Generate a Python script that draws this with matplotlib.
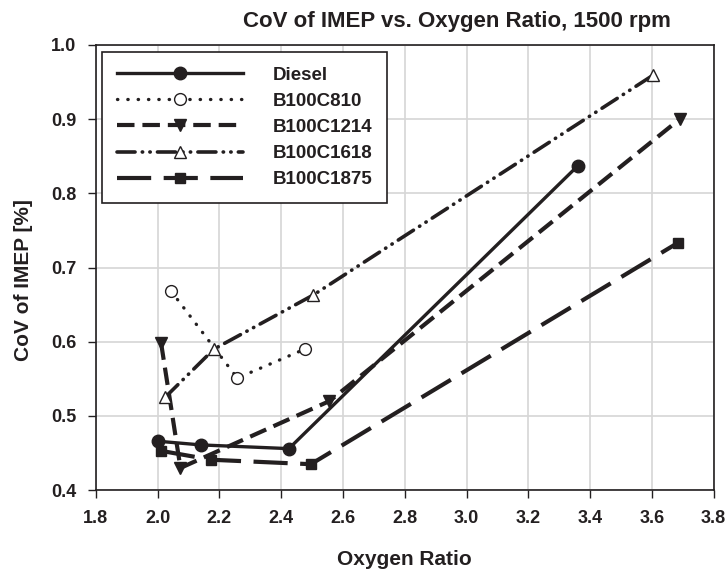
import numpy as np
import matplotlib.pyplot as plt
from matplotlib.ticker import FormatStrFormatter

plt.rcParams['font.family'] = ['Liberation Sans', 'DejaVu Sans']
plt.rcParams['font.weight'] = 'bold'

# data
series = ['Diesel', 'B100C810', 'B100C1214', 'B100C1618', 'B100C1875']
x_diesel = [2.00, 2.14, 2.425, 3.36]
y_diesel = [0.466, 0.461, 0.456, 0.837]
x_c810 = [2.044, 2.258, 2.476]
y_c810 = [0.668, 0.551, 0.590]
x_c1214 = [2.011, 2.074, 2.556, 3.69]
y_c1214 = [0.599, 0.430, 0.520, 0.900]
x_c1618 = [2.024, 2.182, 2.504, 3.603]
y_c1618 = [0.525, 0.590, 0.663, 0.959]
x_c1875 = [2.011, 2.174, 2.496, 3.683]
y_c1875 = [0.453, 0.441, 0.435, 0.733]

col = '#231f20'

fig = plt.figure(figsize=(7.26, 5.76), dpi=100)
ax = fig.add_axes([0.132, 0.149, 0.851, 0.773])

ax.plot(x_diesel, y_diesel, color=col, lw=2.4, ls='-', marker='o', ms=9,
        mfc=col, mec=col, label=series[0])
ax.plot(x_c810, y_c810, color=col, lw=2.4, ls=(0, (0.1, 3.0)), dash_capstyle='round',
        marker='o', ms=8.5, mfc='white', mec=col, mew=1.0, label=series[1])
ax.plot(x_c1214, y_c1214, color=col, lw=3.0, ls=(0, (4.2, 1.9)),
        marker='v', ms=9, mfc=col, mec=col, label=series[2])
ax.plot(x_c1618, y_c1618, color=col, lw=2.6, ls=(0, (5.0, 2.0, 0.1, 2.0, 0.1, 2.0)),
        dash_capstyle='round', marker='^', ms=9, mfc='white', mec=col, mew=1.0,
        label=series[3])
ax.plot(x_c1875, y_c1875, color=col, lw=3.0, ls=(0, (8.2, 3.0)),
        marker='s', ms=7.5, mfc=col, mec=col, label=series[4])

ax.set_xlim(1.8, 3.8)
ax.set_ylim(0.4, 1.0)
ax.set_xticks(np.arange(1.8, 3.81, 0.2))
ax.set_yticks(np.arange(0.4, 1.01, 0.1))
ax.xaxis.set_major_formatter(FormatStrFormatter('%.1f'))
ax.yaxis.set_major_formatter(FormatStrFormatter('%.1f'))
ax.grid(True, color='#d6d6d6', lw=1.2)
ax.set_axisbelow(True)
ax.tick_params(direction='out', length=6, width=1, labelsize=13, pad=8, colors=col)
for s in ax.spines.values():
    s.set_color(col)
    s.set_linewidth(1.2)

ax.set_title('CoV of IMEP vs. Oxygen Ratio, 1500 rpm', fontsize=16, fontweight='bold',
             pad=13, color=col, x=0.584)
ax.set_xlabel('Oxygen Ratio', fontsize=15, fontweight='bold', labelpad=17, color=col)
ax.set_ylabel('CoV of IMEP [%]', fontsize=15, fontweight='bold', labelpad=13, color=col,
              y=0.472)

leg = ax.legend(loc='upper left', bbox_to_anchor=(0.01, 0.985), handlelength=6.7,
                handletextpad=1.6, fontsize=13.5, fancybox=False, framealpha=1,
                edgecolor=col, borderpad=0.8, labelspacing=0.48, borderaxespad=0)
leg.get_frame().set_linewidth(1.2)
for t in leg.get_texts():
    t.set_color(col)

fig.savefig('out.png', dpi=100)
